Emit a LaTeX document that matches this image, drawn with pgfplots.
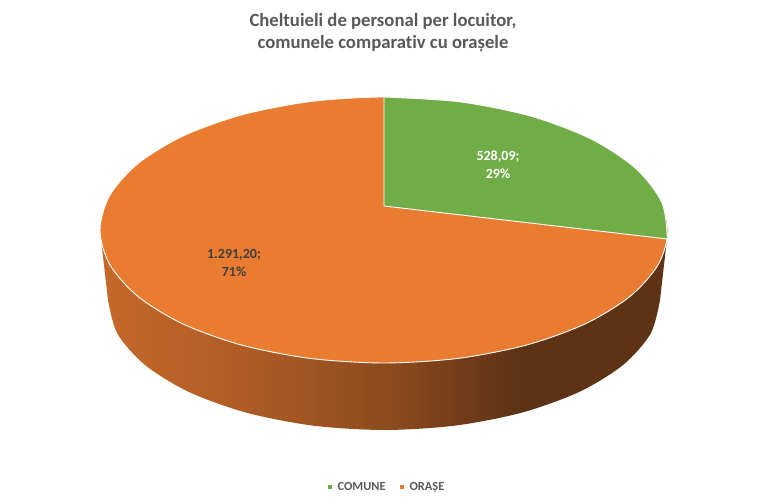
\documentclass[border=0pt]{standalone}
\usepackage{pgfplots}
\pgfplotsset{compat=1.18}
\usepackage{fontspec}
\setmainfont{Carlito}[Ligatures={NoCommon}]
\definecolor{cgreen}{HTML}{70AD47}
\definecolor{corange}{HTML}{E97C31}
\definecolor{s1}{HTML}{C5692B}
\definecolor{s2}{HTML}{AE5C24}
\definecolor{s3}{HTML}{8E4B1E}
\definecolor{s4}{HTML}{6E3A18}
\definecolor{s5}{HTML}{5E3214}
\definecolor{titlegray}{HTML}{595959}
\definecolor{labdark}{HTML}{404040}
\pgfdeclarehorizontalshading{sideshade}{100bp}{color(0bp)=(s1); color(25bp)=(s1); color(38bp)=(s2); color(50bp)=(s3); color(58bp)=(s4); color(62bp)=(s5); color(100bp)=(s5)}
\begin{document}
\begin{tikzpicture}
\begin{axis}[
  hide axis, scale only axis,
  width=768bp, height=502bp,
  xmin=0, xmax=768, ymin=0, ymax=502,
  clip=false,
  legend columns=2,
  reverse legend,
  legend style={at={(axis cs:386,15)}, anchor=center, draw=none, fill=none,
    font=\fontsize{12.4bp}{14bp}\selectfont\bfseries, text=titlegray,
    /tikz/every even column/.append style={column sep=11bp},
    nodes={inner sep=1.5bp}},
  legend image code/.code={\path (-1bp,0bp) -- (8bp,0bp); \fill[#1,draw=none] (0bp,-2.2bp) rectangle (4.6bp,2.4bp);},
]
\path (axis cs:0,0) rectangle (axis cs:768,502);
% side of the pie
\addplot[forget plot, draw=none, shading=sideshade, smooth] coordinates {
 (108,202) (117.40,168.35) (144.98,137) (188.84,110.08) (246,89.42) (312.57,76.43)
 (384,72) (455.43,76.43) (522,89.42) (579.16,110.08) (623.02,137) (650.60,168.35) (660,202)
} -- (axis cs:668,272) -- (axis cs:100,272) -- cycle;
% ORASE: whole top face (orange), green slice drawn above
\addplot[fill=corange, draw=white, line width=0.9bp, smooth cycle] coordinates {
 (668,272) (658.32,306.42) (629.95,338.5) (584.82,366.05) (526,387.18) (457.50,400.47)
 (384,405) (310.50,400.47) (242,387.18) (183.18,366.05) (138.05,338.5) (109.68,306.42)
 (100,272) (109.68,237.58) (138.05,205.5) (183.18,177.95) (242,156.82) (310.50,143.53)
 (384,139) (457.50,143.53) (526,156.82) (584.82,177.95) (629.95,205.5) (658.32,237.58)
};
\addlegendentry{ORAȘE}
% COMUNE: green slice 528,09 of 1819,29
\addplot[fill=cgreen, draw=white, line width=0.9bp, smooth] coordinates {
 (384,405) (460.60,400.07) (531.51,385.65) (591.50,362.81) (636.11,333.23) (662.03,299.12) (667.35,263.00)
} -- (axis cs:384,296) -- cycle;
\addlegendentry{COMUNE}
\node[anchor=base, text=white, font=\fontsize{14bp}{16bp}\selectfont\bfseries] at (axis cs:498,341.3) {528,09;};
\node[anchor=base, text=white, font=\fontsize{14bp}{16bp}\selectfont\bfseries] at (axis cs:498,323.7) {29\%};
\node[anchor=base, text=labdark, font=\fontsize{14bp}{16bp}\selectfont\bfseries] at (axis cs:234,243) {1.291,20;};
\node[anchor=base, text=labdark, font=\fontsize{14bp}{16bp}\selectfont\bfseries] at (axis cs:234,225.3) {71\%};
\node[anchor=base, text=titlegray, font=\fontsize{18.7bp}{22bp}\selectfont\bfseries] at (axis cs:383,475) {Cheltuieli de personal per locuitor,};
\node[anchor=base, text=titlegray, font=\fontsize{18.7bp}{22bp}\selectfont\bfseries] at (axis cs:383,453) {comunele comparativ cu orașele};
\end{axis}
\end{tikzpicture}
\end{document}
